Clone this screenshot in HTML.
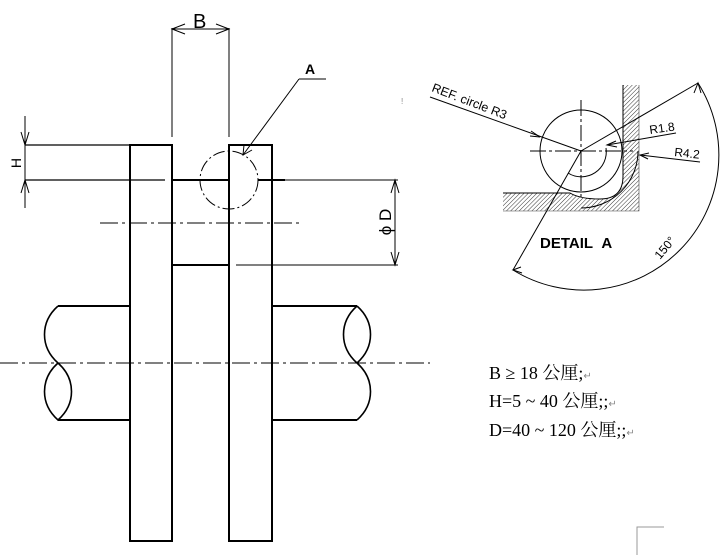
<!DOCTYPE html>
<html><head><meta charset="utf-8"><style>
html,body{margin:0;padding:0;background:#fff;}
svg{display:block;}
</style></head><body>
<svg width="728" height="555" viewBox="0 0 728 555" xmlns="http://www.w3.org/2000/svg">
<defs>
<pattern id="h" width="3" height="3" patternUnits="userSpaceOnUse" patternTransform="rotate(45)">
<line x1="0" y1="0" x2="0" y2="3" stroke="#000" stroke-width="0.8"/>
</pattern>
</defs>
<g fill="none" stroke="#000" stroke-linecap="butt">
<rect x="130" y="145" width="42" height="396" stroke-width="2"/>
<rect x="229" y="145" width="43" height="396" stroke-width="2"/>
<line x1="172" y1="180" x2="229" y2="180" stroke-width="2"/>
<line x1="258" y1="180" x2="285" y2="180" stroke-width="2"/>
<line x1="172" y1="265" x2="229" y2="265" stroke-width="2"/>
<line x1="25" y1="145" x2="130" y2="145" stroke-width="1.2"/>
<line x1="25" y1="180" x2="165" y2="180" stroke-width="1.2"/>
<line x1="285" y1="180" x2="398" y2="180" stroke-width="1"/>
<line x1="236" y1="265" x2="398" y2="265" stroke-width="1"/>
<line x1="172" y1="28" x2="172" y2="137" stroke-width="1"/>
<line x1="229" y1="28" x2="229" y2="137" stroke-width="1"/>
<line x1="172" y1="29" x2="229" y2="29" stroke-width="1"/>
<polyline points="185,24 172,29 185,34" stroke-width="1"/>
<polyline points="216,24 229,29 216,34" stroke-width="1"/>
<line x1="25" y1="116" x2="25" y2="208" stroke-width="1"/>
<polyline points="21,132 25,145 29,132" stroke-width="1"/>
<polyline points="21,193 25,180 29,193" stroke-width="1"/>
<line x1="395" y1="180" x2="395" y2="265" stroke-width="1"/>
<polyline points="391,193 395,180 399,193" stroke-width="1"/>
<polyline points="391,252 395,265 399,252" stroke-width="1"/>
<line x1="100" y1="223" x2="302" y2="223" stroke-width="1" stroke-dasharray="18,4,3,4"/>
<line x1="0" y1="363" x2="430" y2="363" stroke-width="1" stroke-dasharray="18,4,3,4"/>
<circle cx="229" cy="180" r="29" stroke-width="1" stroke-dasharray="12,3,2,3"/>
<line x1="299" y1="79" x2="326" y2="79" stroke-width="1"/>
<line x1="299" y1="79" x2="243" y2="155" stroke-width="1"/>
<polyline points="244,145 243,155 252,150" stroke-width="1"/>
<line x1="58" y1="306" x2="130" y2="306" stroke-width="2"/>
<line x1="58" y1="420" x2="130" y2="420" stroke-width="2"/>
<line x1="272" y1="306" x2="357" y2="306" stroke-width="2"/>
<line x1="272" y1="420" x2="357" y2="420" stroke-width="2"/>
<path d="M58,306 C40,322 40,347 58,363 C76,379 76,404 58,420 C40,404 40,379 58,363" stroke-width="1.6"/>
<path d="M357,306 C339,322 339,347 357,363 C375,347 375,322 357,306 M357,363 C375,379 375,404 357,420" stroke-width="1.6"/>
<path d="M623,85 L639,85 L639,211 L503,211 L503,193 L570,193 Q580,199 600,199 Q623,199 623,176 Z" fill="url(#h)" stroke="none"/>
<path d="M623,85 L623,176 Q623,199 600,199 Q580,199 570,193 L503,193" stroke-width="1"/>
<path d="M639,85 L639,211 L503,211" stroke-width="0.6" stroke="#444"/>
<path d="M638,151 A57,57 0 0 1 581,208" stroke-width="1"/>
<circle cx="581" cy="151" r="41" stroke-width="1"/>
<path d="M606,148 A25,25 0 0 1 568,173" stroke-width="1"/>
<line x1="530" y1="151" x2="633" y2="151" stroke-width="1" stroke-dasharray="16,3,3,3"/>
<line x1="581" y1="100" x2="581" y2="198" stroke-width="1" stroke-dasharray="16,3,3,3"/>
<line x1="430" y1="97" x2="581" y2="151" stroke-width="1"/>
<polyline points="531,131 540,137 530,136" stroke-width="1"/>
<line x1="581" y1="151" x2="698" y2="83" stroke-width="1"/>
<line x1="581" y1="151" x2="513" y2="270" stroke-width="1"/>
<path d="M698,83 A135,135 0 0 1 513,270" stroke-width="1"/>
<polyline points="694,93 698,83 701,93" stroke-width="1"/>
<polyline points="521,267 513,270 522,273" stroke-width="1"/>
<line x1="676" y1="133" x2="607" y2="145" stroke-width="1"/>
<polyline points="616,141 607,145 617,147" stroke-width="1"/>
<line x1="700" y1="162" x2="640" y2="155" stroke-width="1"/>
<polyline points="649,153 640,155 648,159" stroke-width="1"/>
<polyline points="637,555 637,527 664,527" stroke="#999" stroke-width="1"/>
</g>
<g font-family="Liberation Sans, sans-serif" fill="#000">
<text x="193" y="28" font-size="20">B</text>
<text x="305" y="74" font-size="14" font-weight="bold">A</text>
<text transform="translate(21,163) rotate(-90)" font-size="14" text-anchor="middle">H</text>
<text transform="translate(391,222) rotate(-90)" font-size="17" text-anchor="middle">ϕ D</text>
<text transform="translate(431,91) rotate(21)" font-size="12.5">REF. circle R3</text>
<text transform="translate(650,134) rotate(-8)" font-size="12">R1.8</text>
<text transform="translate(674,156) rotate(6)" font-size="12">R4.2</text>
<text x="540" y="248" font-size="15" font-weight="bold">DETAIL&#160;&#160;A</text>
<text transform="translate(660,260) rotate(-50)" font-size="12">150°</text>
<text x="401" y="104" font-size="8" fill="#888">!</text>
</g>
<g font-family="Liberation Serif, 'Noto Serif CJK SC', serif" font-size="18" fill="#000">
<text x="489" y="379">B ≥ 18 公厘;<tspan font-size="10" fill="#888">↵</tspan></text>
<text x="489" y="407">H=5 ~ 40 公厘;;<tspan font-size="10" fill="#888">↵</tspan></text>
<text x="489" y="436">D=40 ~ 120 公厘;;<tspan font-size="10" fill="#888">↵</tspan></text>
</g>
</svg>
</body></html>
